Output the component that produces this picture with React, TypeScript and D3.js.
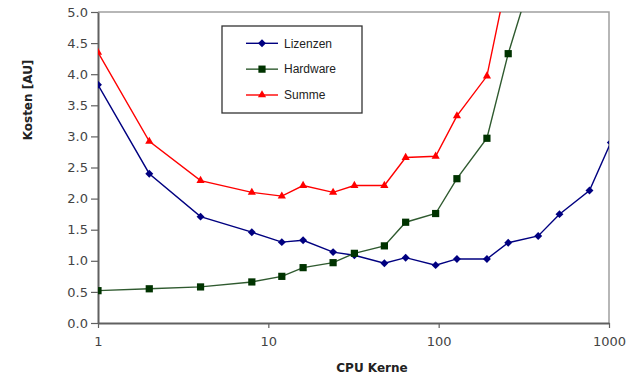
import React, { useEffect, useRef } from "react";
import * as d3 from "d3";

// CPU-Kerne (x) und Kosten (y)
const kerne = [1, 2, 4, 8, 12, 16, 24, 32, 48, 64, 96, 128, 192, 256, 384, 512, 768, 1024];
const lizenzen = [3.83, 2.4, 1.71, 1.46, 1.3, 1.33, 1.14, 1.09, 0.96, 1.05, 0.93, 1.03, 1.03, 1.29, 1.4, 1.75, 2.13, 2.9];
const hardware = [0.52, 0.55, 0.58, 0.66, 0.75, 0.89, 0.97, 1.12, 1.24, 1.62, 1.76, 2.32, 2.97, 4.33, 5.9];
const summe = [4.35, 2.92, 2.29, 2.1, 2.04, 2.21, 2.1, 2.21, 2.21, 2.66, 2.68, 3.33, 3.97, 5.62, 7.3];

const yTicks = [0, 0.5, 1, 1.5, 2, 2.5, 3, 3.5, 4, 4.5, 5];
const xTicks = [1, 10, 100, 1000];

const seriesList = [
  { name: "Lizenzen", values: lizenzen, line: "#000080", fill: "#000080", marker: "diamond" },
  { name: "Hardware", values: hardware, line: "#2f5a2f", fill: "#003300", marker: "square" },
  { name: "Summe", values: summe, line: "#ff0000", fill: "#ff0000", marker: "triangle" },
];

const W = 633;
const H = 374;

export default function App() {
  const svgRef = useRef<SVGSVGElement | null>(null);

  useEffect(() => {
    if (!svgRef.current) return;
    const svg = d3.select(svgRef.current);
    svg.selectAll("*").remove();

    const left = 98, right = 609, top = 12, bottom = 323;

    const x = d3.scaleLog().domain([1, 1000]).range([left, right]);
    const y = d3.scaleLinear().domain([0, 5]).range([bottom, top]);

    svg.append("rect").attr("width", W).attr("height", H).attr("fill", "#fff");

    svg.append("defs").append("clipPath").attr("id", "plotclip")
      .append("rect")
      .attr("x", left).attr("y", top)
      .attr("width", right - left).attr("height", bottom - top);

    // Rahmen oben/rechts
    svg.append("path")
      .attr("d", `M${left},${top}H${right}V${bottom}`)
      .attr("fill", "none")
      .attr("stroke", "#a0a0a0")
      .attr("stroke-width", 1.5);

    const fontTick = "DejaVu Sans, sans-serif";

    // Y-Achse
    const yAxis = svg.append("g")
      .attr("transform", `translate(${left},0)`)
      .call(d3.axisLeft(y).tickValues(yTicks).tickFormat(d3.format(".1f")).tickSize(7).tickPadding(3).tickSizeOuter(0));
    yAxis.select(".domain").attr("stroke", "#606060").attr("stroke-width", 2);
    yAxis.selectAll(".tick line").attr("stroke", "#606060").attr("stroke-width", 1.2);
    yAxis.selectAll(".tick text")
      .attr("font-family", fontTick).attr("font-size", 13).attr("fill", "#444");

    // X-Achse
    const xAxis = svg.append("g")
      .attr("transform", `translate(0,${bottom})`)
      .call(d3.axisBottom(x).tickValues(xTicks).tickFormat(d3.format("d")).tickSize(5).tickPadding(9).tickSizeOuter(0));
    xAxis.select(".domain").attr("stroke", "#606060").attr("stroke-width", 2);
    xAxis.selectAll(".tick line").attr("stroke", "#606060").attr("stroke-width", 1.2);
    xAxis.selectAll(".tick text")
      .attr("font-family", fontTick).attr("font-size", 13).attr("fill", "#444");

    // Achsentitel
    svg.append("text")
      .attr("transform", `translate(32,100) rotate(-90)`)
      .attr("text-anchor", "middle")
      .attr("font-family", "DejaVu Sans, sans-serif")
      .attr("font-weight", "bold")
      .attr("font-size", 12)
      .attr("fill", "#222")
      .text("Kosten [AU]");

    svg.append("text")
      .attr("x", 372).attr("y", 372)
      .attr("text-anchor", "middle")
      .attr("font-family", "DejaVu Sans, sans-serif")
      .attr("font-weight", "bold")
      .attr("font-size", 12)
      .attr("fill", "#222")
      .text("CPU Kerne");

    const symbolFor = (m: string) =>
      m === "diamond"
        ? d3.symbol().type(d3.symbolDiamond2).size(40)
        : m === "square"
        ? d3.symbol().type(d3.symbolSquare).size(52)
        : d3.symbol().type(d3.symbolTriangle2).size(48);

    const plot = svg.append("g").attr("clip-path", "url(#plotclip)");

    seriesList.forEach((s) => {
      const pts = s.values.map((v, i) => [kerne[i], v] as [number, number]);
      const line = d3.line<[number, number]>().x((d) => x(d[0])).y((d) => y(d[1]));
      plot.append("path")
        .attr("d", line(pts))
        .attr("fill", "none")
        .attr("stroke", s.line)
        .attr("stroke-width", 1.4);
      plot.selectAll(null)
        .data(pts)
        .enter()
        .append("path")
        .attr("d", symbolFor(s.marker) as any)
        .attr("transform", (d) => `translate(${x(d[0])},${y(d[1])})`)
        .attr("fill", s.fill);
    });

    // Legende
    const lg = svg.append("g");
    lg.append("rect")
      .attr("x", 222).attr("y", 26).attr("width", 140).attr("height", 87)
      .attr("fill", "#fff").attr("stroke", "#333").attr("stroke-width", 1.3);
    const rowY = d3.scalePoint<string>().domain(seriesList.map((s) => s.name)).range([43.3, 95]);
    seriesList.forEach((s) => {
      const yy = rowY(s.name)!;
      lg.append("line")
        .attr("x1", 246).attr("x2", 278).attr("y1", yy).attr("y2", yy)
        .attr("stroke", s.line).attr("stroke-width", 1.4);
      lg.append("path")
        .attr("d", symbolFor(s.marker) as any)
        .attr("transform", `translate(262,${yy})`)
        .attr("fill", s.fill);
      lg.append("text")
        .attr("x", 284).attr("y", yy).attr("dy", "0.36em")
        .attr("font-family", "Liberation Sans, Arial, sans-serif")
        .attr("font-size", 12)
        .attr("fill", "#222")
        .text(s.name);
    });
  }, []);

  return (
    <svg
      ref={svgRef}
      width={W}
      height={H}
      style={{ position: "absolute", left: 0, top: 0, display: "block" }}
    />
  );
}
